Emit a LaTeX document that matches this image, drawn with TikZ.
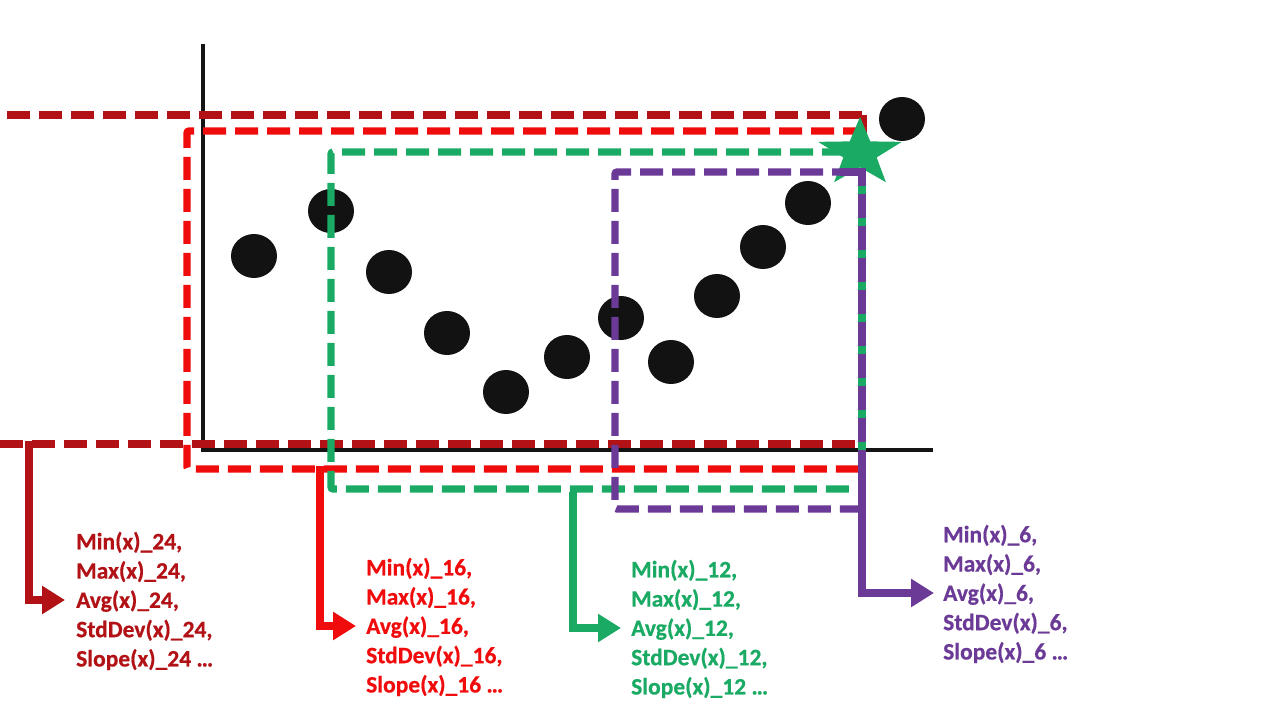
\documentclass[tikz,border=0pt]{standalone}
\usepackage{fontspec}
\setmainfont{Carlito}
\newfontfamily\lblfont{Carlito Bold}[FakeBold=0.6]
\usetikzlibrary{arrows.meta}
\definecolor{dred}{RGB}{178,18,22}
\definecolor{bred}{RGB}{240,12,12}
\definecolor{grn}{RGB}{26,170,100}
\definecolor{prp}{RGB}{107,58,150}
\tikzset{
  boxline/.style={line width=7.2pt, dash pattern=on 23pt off 9pt, rounded corners=2pt},
  dropline/.style={line width=7.2pt, -{Triangle[length=23pt,width=27pt]}},
  dot/.style={fill=black!93, draw=none},
  axisline/.style={line width=3.4pt, black!92},
  lbl/.style={inner sep=0pt, anchor=west, align=left, font=\lblfont\fontsize{23.5}{29.3}\selectfont}
}
\begin{document}
\begin{tikzpicture}[x=1pt,y=-1pt]
\useasboundingbox (0,0) rectangle (1280,720);
% axes
\coordinate (ytop) at (203,44);
\coordinate (orig) at (203,450);
\coordinate (xend) at (933,450);
\draw[axisline] (ytop) -- (orig) -- (xend);
% dots
\foreach \px/\py [count=\i] in {254/256,331/211,389/272,447/333,506/392,567/357,621/318,671/362,717/296,763/247,808/203,902/119}
  \fill[dot] (\px,\py) ellipse [x radius=23, y radius=22];
% text labels
\node[lbl, text=dred] (t24) at (76,601) {Min(x)\_24,\\Max(x)\_24,\\Avg(x)\_24,\\StdDev(x)\_24,\\Slope(x)\_24 …};
\node[lbl, text=bred] (t16) at (366,627) {Min(x)\_16,\\Max(x)\_16,\\Avg(x)\_16,\\StdDev(x)\_16,\\Slope(x)\_16 …};
\node[lbl, text=grn] (t12) at (631,629) {Min(x)\_12,\\Max(x)\_12,\\Avg(x)\_12,\\StdDev(x)\_12,\\Slope(x)\_12 …};
\node[lbl, text=prp] (t6) at (943,594) {Min(x)\_6,\\Max(x)\_6,\\Avg(x)\_6,\\StdDev(x)\_6,\\Slope(x)\_6 …};
% coordinates
\coordinate (a24) at (65,600);
\coordinate (a16) at (356,626);
\coordinate (a12) at (621,628);
\coordinate (a6) at (934,593);
% dark red window (24)
\draw[boxline, dred] (7,115) -- (866,115);
\draw[boxline, dred] (0,444) -- (860,444);
\draw[line width=7pt, dred] (863,115) -- (863,148);
\draw[dropline, dred] (29,441) |- (a24);
% red window (16)
\draw[boxline, bred] (866,131) -- (187,131) -- (187,469) -- (860,469);
\draw[line width=5.5pt, bred] (861,128) -- (861,146);
\draw[dropline, bred] (320,466) |- (a16);
% green window (12)
\draw[boxline, grn] (845,152) -- (331,152) -- (331,489) -- (856,489);
\draw[dropline, grn] (573,492) |- (a12);
% star
\fill[grn, shift={(860,153)}, yscale=0.82]
  (-90:44) -- (-54:17.5) -- (-18:44) -- (18:17.5) -- (54:44) -- (90:17.5) -- (126:44) -- (162:17.5) -- (198:44) -- (234:17.5) -- cycle;
% purple window (6)
\draw[boxline, prp] (855,172) -- (615,172) -- (615,509) -- (858,509);
\draw[dropline, prp] (840,172) -- (862,172) -- (862,593) -- (a6);
\draw[line width=7.2pt, grn, dash pattern=on 8pt off 24pt] (862,186) -- (862,452);
\end{tikzpicture}
\end{document}
